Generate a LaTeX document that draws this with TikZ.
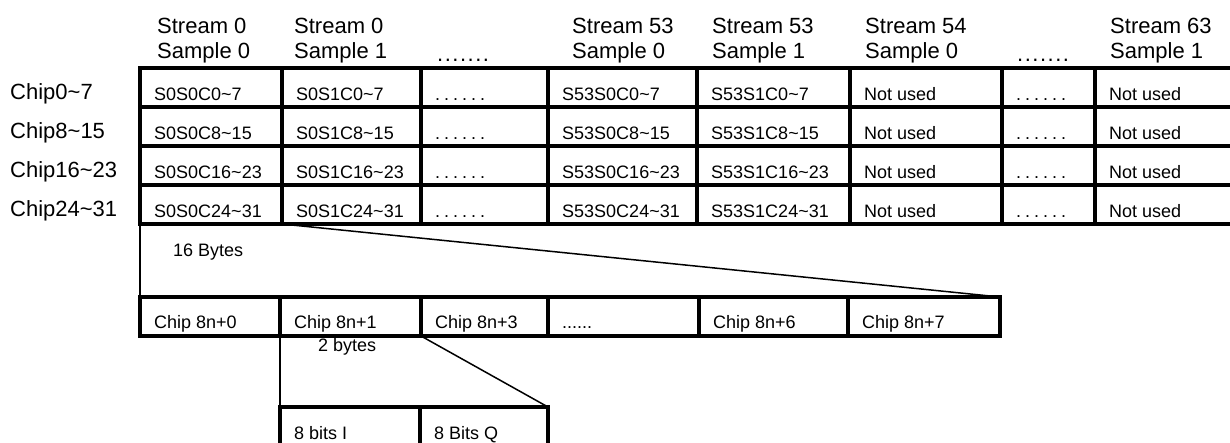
\documentclass[tikz,border=0pt]{standalone}
\usepackage{fontspec}
\setmainfont{Liberation Sans}
\usetikzlibrary{positioning}

\newcommand\hdrfont{\fontsize{22}{25}\selectfont}
\newcommand\cellfont{\fontsize{18}{20}\selectfont}
\newcommand\spdots{.\kern4pt.\kern4pt.\kern4pt.\kern4pt.\kern4pt.}
\newcommand\hddots{.\kern1.5pt.\kern1.5pt.\kern1.5pt.\kern1.5pt.\kern1.5pt.\kern1.5pt.}
\newcommand\lodots{......}

\begin{document}
\begin{tikzpicture}[x=1pt, y=-1pt,
    cell/.style={draw, line width=3.5pt, minimum height=39pt, inner sep=0pt, outer sep=0pt, anchor=north west},
    txt/.style={font=\cellfont, inner sep=0pt, anchor=base west},
    hdr/.style={font=\hdrfont, inner sep=0pt, anchor=base west, align=left},
    link/.style={line width=1.5pt}
  ]
  \useasboundingbox (0,0) rectangle (1230,442);
  \clip (0,0) rectangle (1230,442);

  % column heads
  \node[hdr] (h1) at (157,58) {Stream 0\\Sample 0};
  \node[hdr] (h2) at (294,58) {Stream 0\\Sample 1};
  \node[hdr] (h3) at (437,61) {\hddots};
  \node[hdr] (h4) at (572,58) {Stream 53\\Sample 0};
  \node[hdr] (h5) at (712,58) {Stream 53\\Sample 1};
  \node[hdr] (h6) at (865,58) {Stream 54\\Sample 0};
  \node[hdr] (h7) at (1017,61) {\hddots};
  \node[hdr] (h8) at (1110,58) {Stream 63\\Sample 1};

  % 64 streams x 2 samples
  \foreach \rng [count=\i] in {0\textasciitilde 7, 8\textasciitilde 15, 16\textasciitilde 23, 24\textasciitilde 31} {
    \node[hdr] (c\i) at (10,{68+39*\i-8}) {Chip\rng};
    \foreach \c/\x/\w/\t in {1/140/142/S0S0C\rng, 2/282/139/S0S1C\rng, 3/421/127/\spdots,
        4/548/149/S53S0C\rng, 5/697/153/S53S1C\rng, 6/850/152/Not used, 7/1002/93/\spdots, 8/1095/160/Not used} {
      \node[cell, minimum width=\w] (t\i\c) at (\x,{68+39*(\i-1)}) {};
      \node[txt] (s\i\c) at ([shift={(14pt,7pt)}]t\i\c.south west) {\t};
    }
  }

  % one sample = 16 bytes
  \foreach \c/\x/\w/\t in {1/140/140/Chip 8n+0, 2/280/141/Chip 8n+1, 3/421/127/Chip 8n+3,
      4/548/151/\lodots, 5/699/149/Chip 8n+6, 6/848/152/Chip 8n+7} {
    \node[cell, minimum width=\w] (b\c) at (\x,297) {};
    \node[txt] (bt\c) at ([shift={(14pt,8pt)}]b\c.south west) {\t};
  }

  % one chip = 2 bytes
  \node[cell, minimum width=140] (q1) at (280,407) {};
  \node[cell, minimum width=128] (q2) at (q1.north east) {};
  \node[txt] (qt1) at ([shift={(14pt,7pt)}]q1.south west) {8 bits I};
  \node[txt] (qt2) at ([shift={(14pt,7pt)}]q2.south west) {8 Bits Q};

  \draw[link] (t41.south west) -- (b1.north west);
  \draw[link] (t42.south west) -- (b6.north east);
  \draw[link] (b2.south west) -- (q1.north west);
  \draw[link] (b2.south east) -- (q2.north east);
  \node[txt] (l16) at (173,256) {16 Bytes};
  \node[txt] (l2) at (318,351) {2 bytes};
\end{tikzpicture}
\end{document}
